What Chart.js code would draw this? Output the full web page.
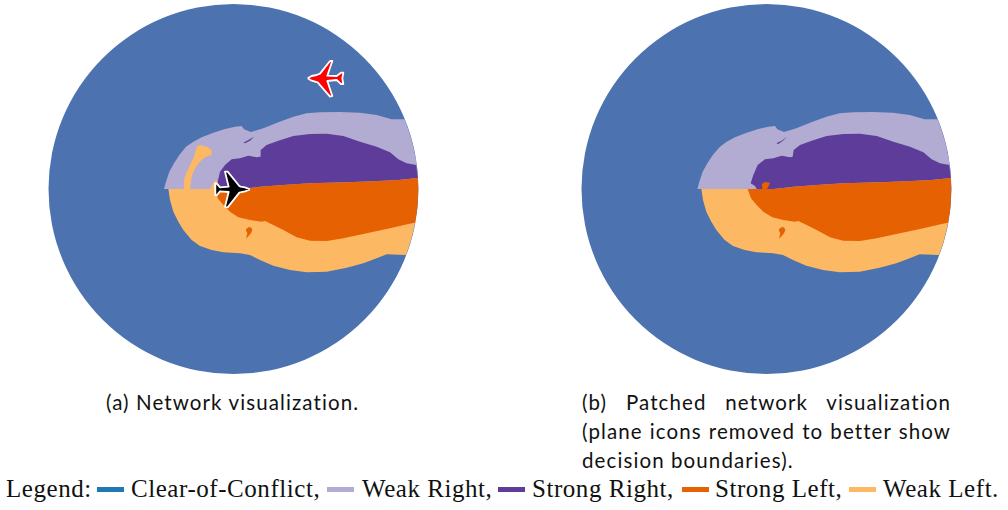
<!DOCTYPE html>
<html><head><meta charset="utf-8">
<script src="https://cdn.jsdelivr.net/npm/chart.js@4"></script>
<style>
html,body{margin:0;padding:0;background:#fff;width:1008px;height:510px;overflow:hidden}
#wrap{position:relative;width:1008px;height:510px}
canvas{position:absolute;top:0}
.t{position:absolute;white-space:nowrap;color:#111}
.cap{font-family:"Lato",sans-serif;font-size:20.5px;line-height:24px;letter-spacing:1.1px}
.leg{font-family:"Liberation Serif",serif;font-size:25px;letter-spacing:.55px;line-height:28px;top:475px}
.sw{position:absolute;top:487px;height:5px;width:27px}
.just{width:369px;text-align:justify;text-align-last:justify;white-space:normal}
</style></head><body><div id="wrap">
<canvas id="a" width="504" height="385" style="left:0"></canvas>
<canvas id="b" width="504" height="385" style="left:504px"></canvas>
<div class="t cap" style="left:106px;top:390px">(a) Network visualization.</div>
<div class="t cap just" style="left:582px;top:390px">(b) Patched network visualization</div>
<div class="t cap just" style="left:582px;top:419px">(plane icons removed to better show</div>
<div class="t cap" style="left:582px;top:448px">decision boundaries).</div>
<div class="t leg" style="left:6px">Legend:</div>
<div id="legend"></div>
</div>
<script>
// Category names and colours
const categories = ["Clear-of-Conflict","Weak Right","Strong Right","Strong Left","Weak Left"];
const legendColors = ["#1f78b4","#b2abd2","#5e3c99","#e66101","#fdb863"];
const legendEnds = [",",",",",",",","."];
const diskColor = "#4c72b0";
const legendTextX = [131,362,532,715,883];
const legendSwatchX = [97,327,498,682,849];

// Panel (a) decision regions: [x, y]
const centerA = [[250.5,267]];
const weakRightA = [[42,267],[48,245],[58,215],[72,190],[88,165],[108,140],[130,125],[155,112],[190,98],[225,87],[255,80],[275,78],[282,88],[303,96],[340,85],[385,67],[430,50],[470,40],[510,37],[570,36],[630,38],[680,45],[725,58],[763.6,58],[770,75],[777,95],[783,115],[788.5,135],[793,155],[797,175],[800,195],[803,225],[804.5,267]];
const weakLeftA = [[55,267],[60,300],[70,335],[85,365],[100,390],[125,420],[150,438],[185,450],[220,457],[270,460],[300,465],[330,480],[370,497],[420,510],[470,517],[530,515],[590,503],[640,490],[680,475],[710,463],[768,465],[775,445],[783,420],[789.5,395],[795,368],[796,360],[600,300],[210,267],[204,245],[195,240],[180,267]];
const weakLeftStreakA = [[120,267],[101,267],[103,235],[115,205],[132,170],[140,140],[150,135],[170,140],[185,150],[185,165],[165,172],[150,185],[135,205],[125,230]];
const strongRightA = [[203,245],[210,215],[225,195],[245,178],[270,175],[295,167],[320,172],[330,170],[332,150],[350,135],[385,122],[430,108],[480,102],[530,101],[580,108],[630,125],[680,140],[720,157],[745,178],[770,190],[799,195],[801,215],[803.5,234],[745,240],[670,244],[590,247],[480,250],[400,255],[330,260],[300,264],[270,267],[200,267]];
const strongRightSliverA = [[280,128],[295,120],[312,110],[300,122],[285,130]];
const strongLeftA = [[197,267],[270,267],[300,264],[330,260],[400,255],[480,250],[590,247],[670,244],[745,240],[803.5,234],[804.5,267],[803,310],[800,340],[795,368],[775,372],[720,385],[650,400],[580,415],[530,423],[480,422],[440,412],[400,390],[370,375],[345,363],[335,365],[300,360],[265,352],[240,335],[220,315],[203,295]];
const strongLeftCommaA = [[288,388],[295,382],[303,382],[307,390],[303,400],[296,408],[288,416],[292,400],[288,392]];
const redPlane = [[473,-65],[485,-72],[500,-75],[510,-79],[540,-117],[547,-117],[532,-73],[560,-72],[573,-82],[580,-82],[577,-65],[580,-48],[573,-48],[560,-60],[532,-57],[547,-12],[540,-10],[503,-53],[485,-58]];
const blackPlane = [[300,268],[285,262],[272,260],[268,258],[233,215],[225,215],[236,260],[210,262],[200,250],[195,250],[197,268],[195,286],[200,286],[210,274],[236,276],[225,320],[233,322],[268,278],[285,274]];

// Panel (b) decision regions
const centerB = [[244.5,267]];
const weakRightB = [[37,267],[43,245],[53,215],[67,190],[85,163],[105,140],[125,125],[150,112],[185,98],[220,87],[250,80],[270,78],[277,88],[297,96],[334,85],[379,67],[424,50],[464,40],[504,37],[564,36],[624,38],[674,45],[719,58],[757.6,58],[764,75],[771,95],[777,115],[782.5,135],[787,155],[791,175],[794,195],[797,225],[798.5,267]];
const weakLeftB = [[49,267],[54,300],[64,335],[79,365],[94,390],[119,420],[144,438],[179,450],[214,457],[264,460],[294,465],[324,480],[364,497],[414,510],[464,517],[524,515],[584,503],[634,490],[674,475],[704,463],[762,465],[769,445],[777,420],[783.5,395],[789,368],[790,360],[594,300],[200,267]];
const strongRightB = [[197,250],[205,225],[218,195],[240,178],[265,175],[290,167],[315,172],[323,170],[326,150],[345,135],[380,122],[425,108],[475,102],[525,101],[575,108],[625,125],[675,140],[715,157],[740,178],[765,190],[793,195],[795,215],[797.5,234],[740,240],[665,244],[585,247],[475,250],[395,255],[325,260],[295,264],[265,267],[215,267],[210,258]];
const strongRightSliverB = [[274,130],[290,122],[306,110],[294,122],[280,132]];
const strongLeftB = [[188,267],[265,267],[295,264],[325,260],[395,255],[475,250],[585,247],[665,244],[740,240],[797.5,234],[798.5,267],[797,310],[794,340],[789,368],[770,372],[715,385],[645,400],[575,415],[525,423],[475,422],[435,412],[395,390],[365,375],[340,363],[330,365],[295,360],[262,352],[235,335],[215,315],[198,295]];
const strongLeftBlobB = [[230,252],[240,246],[255,248],[250,260],[245,268],[232,268]];
const strongLeftCommaB = [[282,388],[289,382],[297,382],[301,390],[297,400],[290,408],[282,416],[286,400],[282,392]];

const pts = p => p.map(([x,y]) => ({x,y}));
const poly = (p,color,extra={}) => ({type:"scatter",showLine:true,data:pts(p),fill:"shape",backgroundColor:color,borderColor:color,borderWidth:0,pointRadius:0,tension:0,...extra});
const disk = (c) => ({type:"scatter",data:pts(c),pointRadius:185,pointHoverRadius:185,pointBackgroundColor:diskColor,pointBorderWidth:0,borderWidth:0});
const plane = (p,color) => poly([...p,p[0]],color,{borderColor:"#fff",borderWidth:1.8});

function draw(id,datasets,xMin,xMax){
  // Listed back to front; in Chart.js a lower order paints on top.
  datasets.forEach((d,i)=>{d.order=datasets.length-i});
  new Chart(document.getElementById(id),{
    type:"scatter",
    data:{datasets},
    options:{responsive:false,animation:false,devicePixelRatio:1,
      layout:{padding:0,autoPadding:false},
      plugins:{legend:{display:false},tooltip:{enabled:false}},
      events:[],
      elements:{line:{borderJoinStyle:"round"}},
      scales:{
        x:{type:"linear",display:false,min:xMin,max:xMax},
        y:{type:"linear",display:false,reverse:true,min:-300,max:855}
      }}});
}
const [wr,sr,sl,wl] = [legendColors[1],legendColors[2],legendColors[3],legendColors[4]];
draw("a",[
  disk(centerA),
  poly(weakRightA,wr),poly(weakLeftA,wl),poly(weakLeftStreakA,wl),
  poly(strongRightA,sr),poly(strongRightSliverA,sr),
  poly(strongLeftA,sl),poly(strongLeftCommaA,sl),
  plane(redPlane,"#ff0000"),plane(blackPlane,"#000000")
],-450,1062);
draw("b",[
  disk(centerB),
  poly(weakRightB,wr),poly(weakLeftB,wl),
  poly(strongRightB,sr),poly(strongRightSliverB,sr),
  poly(strongLeftB,sl),poly(strongLeftBlobB,sl),poly(strongLeftCommaB,sl)
],-543,969);

const legend=document.getElementById("legend");
categories.forEach((name,i)=>{
  const s=document.createElement("div");s.className="sw";s.style.left=legendSwatchX[i]+"px";s.style.background=legendColors[i];legend.appendChild(s);
  const t=document.createElement("div");t.className="t leg";t.style.left=legendTextX[i]+"px";t.textContent=name+legendEnds[i];legend.appendChild(t);
});
</script></body></html>
